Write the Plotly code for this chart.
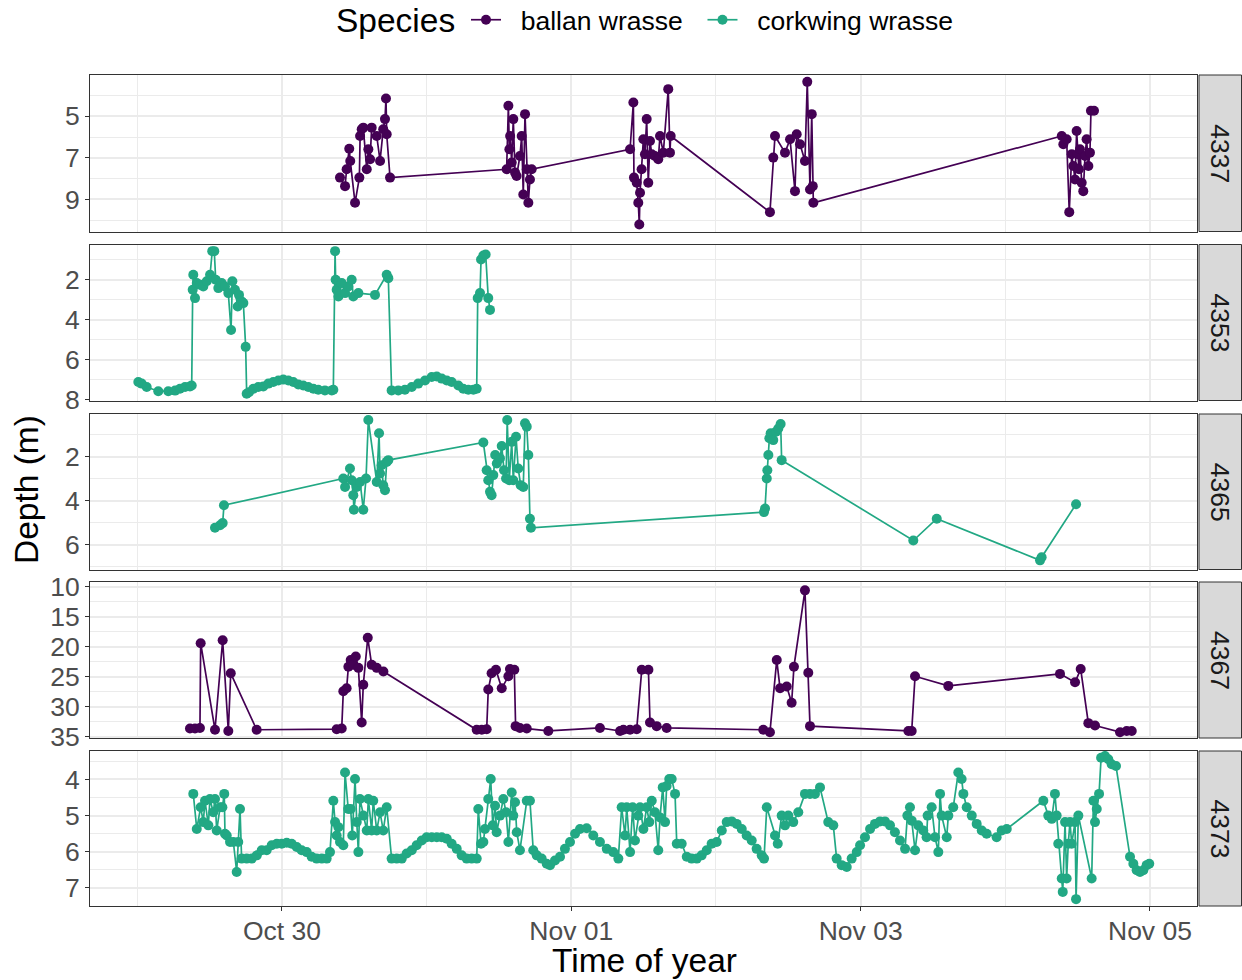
import pandas as pd
import plotly.graph_objects as go

# Time axis: days after 29 Oct 2019 00:00
T0 = pd.Timestamp("2019-10-29")

# ---- Fish 4337 (ballan wrasse) ----
t_4337 = [1.401, 1.436, 1.447, 1.465, 1.472, 1.505, 1.535, 1.540, 1.551, 1.562, 1.586, 1.597, 1.609, 1.620, 1.655,
          1.678, 1.700, 1.712, 1.719, 1.724, 1.747,
          2.553, 2.565, 2.572, 2.577, 2.588, 2.599, 2.611, 2.622, 2.645, 2.657, 2.668, 2.680, 2.692, 2.703, 2.714, 2.726,
          3.406, 3.429, 3.433, 3.452, 3.463, 3.470, 3.475, 3.486, 3.498, 3.509, 3.521, 3.532, 3.544, 3.556, 3.578,
          3.601, 3.613, 3.636, 3.670, 3.682, 3.687,
          4.373, 4.396, 4.408, 4.477, 4.512, 4.546, 4.558, 4.581, 4.615, 4.631, 4.650, 4.662, 4.669, 4.673,
          6.390, 6.401, 6.424, 6.442, 6.459, 6.470, 6.482, 6.493, 6.500, 6.509, 6.516, 6.528, 6.539, 6.551, 6.562,
          6.574, 6.585, 6.592, 6.613]
d_4337 = [7.95, 8.36, 7.55, 6.56, 7.15, 9.16, 7.95, 5.95, 5.63, 5.55, 7.55, 6.59, 7.07, 5.55, 5.95,
          7.15, 5.63, 5.14, 4.15, 5.87, 7.95,
          7.55, 4.50, 6.59, 5.95, 7.23, 5.14, 7.71, 7.87, 6.91, 5.95, 8.76, 4.90, 7.55, 9.16, 8.04, 7.55,
          6.59, 4.34, 7.95, 8.20, 9.16, 10.2, 8.68, 7.55, 6.11, 6.83, 5.14, 8.20, 6.19, 6.83, 6.91,
          7.07, 5.95, 6.75, 3.70, 6.75, 5.95,
          9.61, 6.99, 5.95, 6.75, 6.11, 8.60, 5.87, 6.35, 7.15, 3.35, 8.52, 4.90, 8.36, 9.16,
          5.95, 6.35, 6.11, 9.61, 6.83, 7.39, 8.04, 5.71, 6.83, 7.55, 6.59, 8.20, 8.60, 6.91, 6.11,
          7.39, 6.75, 4.74, 4.74]

# ---- Fish 4353 (corkwing wrasse) ----
t_4353 = [0.007, 0.030, 0.065, 0.145, 0.214, 0.261, 0.295, 0.330, 0.364, 0.376,
          0.383, 0.387, 0.399, 0.411, 0.433, 0.456, 0.480, 0.503, 0.518, 0.532,
          0.542, 0.560, 0.583, 0.606, 0.629, 0.648, 0.657, 0.675, 0.694, 0.703,
          0.722, 0.733, 0.749, 0.756, 0.772, 0.802, 0.836, 0.871, 0.906, 0.940,
          0.975, 1.009, 1.044, 1.078, 1.113, 1.147, 1.182, 1.217, 1.251, 1.297,
          1.344, 1.355, 1.367, 1.371, 1.378, 1.390, 1.413, 1.436, 1.459, 1.482,
          1.493, 1.528, 1.643, 1.724, 1.735, 1.758, 1.804, 1.850, 1.897, 1.942,
          1.989, 2.035, 2.070, 2.104, 2.139, 2.173, 2.219, 2.253, 2.288, 2.323,
          2.346, 2.353, 2.369, 2.376, 2.392, 2.408, 2.426, 2.438]
d_4353 = [7.12, 7.20, 7.37, 7.58, 7.58, 7.55, 7.46, 7.37, 7.34, 7.29,
          2.50, 1.75, 2.92, 2.17, 2.25, 2.34, 2.08, 1.75, 0.57, 0.57,
          2.00, 2.42, 2.17, 2.34, 2.67, 4.52, 2.08, 2.50, 3.34, 2.76,
          3.09, 3.17, 5.36, 7.71, 7.63, 7.46, 7.37, 7.34, 7.20, 7.12,
          7.04, 7.00, 7.04, 7.12, 7.24, 7.29, 7.37, 7.46, 7.51, 7.54,
          7.54, 7.51, 0.57, 2.00, 2.50, 2.84, 2.17, 2.67, 2.34, 2.00,
          2.84, 2.67, 2.76, 1.75, 1.92, 7.54, 7.54, 7.51, 7.37, 7.20,
          7.04, 6.87, 6.84, 6.95, 7.04, 7.12, 7.29, 7.46, 7.51, 7.51,
          7.46, 2.92, 2.67, 0.99, 0.79, 0.74, 2.92, 3.51]

# ---- Fish 4365 (corkwing wrasse) ----
t_4365 = [0.537, 0.572, 0.590, 0.599,
          1.424, 1.436, 1.470, 1.482, 1.493, 1.497, 1.517, 1.540, 1.562, 1.581, 1.597, 1.655, 1.671, 1.678,
          1.689, 1.700, 1.712, 1.724, 1.735,
          2.392, 2.415, 2.426, 2.438, 2.449, 2.461, 2.474, 2.485, 2.507, 2.519, 2.535, 2.549, 2.557, 2.571,
          2.588, 2.599, 2.618, 2.633, 2.650, 2.668, 2.680, 2.692, 2.703, 2.714, 2.721,
          4.332, 4.339, 4.351, 4.355, 4.362, 4.369, 4.378, 4.396, 4.415, 4.431, 4.447, 4.454,
          5.364, 5.526, 6.240, 6.251, 6.489]
d_4365 = [5.22, 5.11, 5.01, 4.20,
          2.98, 3.37, 2.53, 3.06, 3.74, 4.40, 3.37, 3.14, 4.40, 2.98, 0.33, 3.14, 0.93, 2.76,
          2.38, 3.29, 3.52, 2.23, 2.15,
          1.35, 2.61, 3.06, 3.59, 3.74, 2.83, 1.92, 2.30, 2.07, 1.51, 2.61, 2.98, 0.33, 3.06,
          1.32, 3.06, 1.09, 2.53, 3.29, 3.37, 0.48, 0.63, 1.92, 4.81, 5.22,
          4.51, 4.35, 2.98, 2.61, 1.92, 1.16, 0.93, 1.24, 0.86, 0.71, 0.51, 2.15,
          5.80, 4.81, 6.70, 6.56, 4.15]

# ---- Fish 4367 (ballan wrasse) ----
t_4367 = [0.364, 0.399, 0.433, 0.438, 0.537, 0.590, 0.629, 0.646, 0.825,
          1.378, 1.413, 1.424, 1.447, 1.459, 1.475, 1.493, 1.510, 1.528, 1.551, 1.562, 1.593, 1.620, 1.655, 1.701,
          2.346, 2.381, 2.415, 2.426, 2.449, 2.479, 2.519, 2.565, 2.576, 2.606, 2.615, 2.645, 2.692, 2.841,
          3.198, 3.337, 3.360, 3.406, 3.452, 3.487, 3.533, 3.544, 3.590, 3.659,
          4.327, 4.373, 4.420, 4.443, 4.489, 4.523, 4.539, 4.615, 4.638, 4.650,
          5.330, 5.353, 5.376, 5.606, 6.378, 6.482, 6.521, 6.574, 6.620, 6.793, 6.839, 6.874]
d_4367 = [33.6, 33.6, 33.5, 19.4, 33.8, 18.9, 34.0, 24.4, 33.8,
          33.7, 33.6, 27.4, 26.9, 23.3, 22.2, 23.0, 21.6, 23.5, 32.6, 26.3, 18.5, 23.0, 23.5, 24.1,
          33.8, 33.8, 33.7, 27.1, 24.4, 23.8, 26.9, 24.9, 23.7, 23.8, 33.2, 33.5, 33.6, 34.0,
          33.5, 34.0, 33.8, 33.8, 33.7, 23.8, 23.8, 32.6, 33.2, 33.5,
          33.8, 34.2, 22.2, 26.9, 26.6, 29.3, 23.3, 10.6, 24.3, 33.2,
          34.0, 34.0, 24.9, 26.5, 24.5, 25.9, 23.7, 32.7, 33.1, 34.2, 34.0, 34.0]

# ---- Fish 4373 (corkwing wrasse) ----
t_4373 = [0.387, 0.411, 0.438, 0.456, 0.468, 0.491, 0.502, 0.525, 0.537, 0.549,
          0.572, 0.588, 0.601, 0.606, 0.618, 0.641, 0.664, 0.687, 0.698, 0.710,
          0.721, 0.756, 0.791, 0.826, 0.860, 0.894, 0.929, 0.964, 0.998, 1.033,
          1.067, 1.102, 1.136, 1.171, 1.205, 1.240, 1.275, 1.309, 1.332, 1.355,
          1.367, 1.378, 1.390, 1.401, 1.424, 1.436, 1.458, 1.475, 1.486, 1.505,
          1.517, 1.528, 1.539, 1.562, 1.586, 1.597, 1.620, 1.631, 1.655, 1.678,
          1.700, 1.724, 1.758, 1.793, 1.828, 1.862, 1.897, 1.931, 1.966, 2.000,
          2.035, 2.070, 2.104, 2.139, 2.173, 2.208, 2.242, 2.277, 2.311, 2.346,
          2.357, 2.376, 2.392, 2.403, 2.426, 2.443, 2.457, 2.473, 2.484, 2.507,
          2.530, 2.549, 2.565, 2.588, 2.599, 2.611, 2.623, 2.645, 2.692, 2.714,
          2.737, 2.761, 2.795, 2.830, 2.853, 2.887, 2.922, 2.956, 2.991, 3.026,
          3.060, 3.106, 3.152, 3.198, 3.245, 3.290, 3.325, 3.348, 3.371, 3.383,
          3.406, 3.424, 3.440, 3.463, 3.475, 3.498, 3.521, 3.539, 3.556, 3.578,
          3.601, 3.613, 3.632, 3.648, 3.659, 3.677, 3.694, 3.717, 3.729, 3.763,
          3.798, 3.832, 3.867, 3.901, 3.936, 3.970, 4.005, 4.040, 4.074, 4.109,
          4.143, 4.178, 4.212, 4.247, 4.281, 4.316, 4.332, 4.351, 4.408, 4.427,
          4.454, 4.477, 4.500, 4.534, 4.569, 4.615, 4.650, 4.684, 4.719, 4.776,
          4.811, 4.834, 4.869, 4.904, 4.938, 4.973, 4.996, 5.030, 5.065, 5.099,
          5.134, 5.168, 5.203, 5.237, 5.272, 5.307, 5.323, 5.341, 5.353, 5.376,
          5.398, 5.433, 5.456, 5.463, 5.491, 5.514, 5.537, 5.549, 5.560, 5.595,
          5.606, 5.640, 5.675, 5.698, 5.710, 5.733, 5.768, 5.802, 5.837, 5.871,
          5.940, 5.975, 6.010, 6.263, 6.297, 6.321, 6.343, 6.355, 6.366, 6.390,
          6.397, 6.413, 6.424, 6.435, 6.447, 6.459, 6.482, 6.489, 6.505, 6.597,
          6.609, 6.620, 6.632, 6.648, 6.662, 6.689, 6.712, 6.735, 6.765, 6.862,
          6.885, 6.908, 6.931, 6.954, 6.977, 6.995]
d_4373 = [4.40, 5.37, 4.77, 5.18, 4.59, 5.27, 4.54, 4.91, 4.54, 5.41,
          4.77, 4.77, 4.40, 5.50, 5.55, 5.73, 5.73, 6.56, 5.73, 4.82,
          6.19, 6.19, 6.19, 6.10, 5.96, 5.96, 5.82, 5.78, 5.78, 5.75,
          5.78, 5.87, 5.96, 6.01, 6.14, 6.19, 6.19, 6.19, 6.01, 4.59,
          5.18, 5.55, 5.32, 5.73, 5.82, 3.81, 4.82, 4.82, 5.55, 3.99,
          5.18, 6.01, 4.54, 5.00, 5.41, 4.54, 5.41, 4.59, 5.41, 4.91,
          5.41, 4.77, 6.19, 6.19, 6.19, 6.05, 5.96, 5.82, 5.69, 5.60,
          5.60, 5.60, 5.60, 5.64, 5.78, 5.92, 6.10, 6.19, 6.19, 6.19,
          4.82, 5.78, 5.73, 5.37, 4.54, 3.99, 5.27, 4.73, 5.46, 5.00,
          4.54, 4.91, 5.73, 4.36, 5.00, 4.63, 5.46, 5.96, 4.59, 4.59,
          5.96, 6.10, 6.19, 6.33, 6.37, 6.24, 6.14, 5.92, 5.73, 5.50,
          5.37, 5.35, 5.55, 5.73, 5.92, 6.01, 6.19, 4.77, 5.55, 4.77,
          6.01, 4.77, 5.69, 5.00, 4.77, 5.37, 4.77, 5.18, 4.59, 4.91,
          5.96, 5.05, 4.22, 5.18, 4.18, 3.99, 3.99, 4.40, 5.78, 5.78,
          6.14, 6.19, 6.19, 6.10, 5.96, 5.78, 5.73, 5.41, 5.18, 5.16,
          5.23, 5.37, 5.55, 5.69, 5.92, 6.10, 6.19, 4.77, 5.55, 5.78,
          5.00, 5.27, 5.00, 5.18, 4.91, 4.40, 4.40, 4.40, 4.22, 5.18,
          5.27, 6.19, 6.37, 6.42, 6.19, 6.01, 5.82, 5.60, 5.37, 5.23,
          5.16, 5.16, 5.27, 5.46, 5.69, 5.92, 5.00, 4.77, 5.14, 5.96,
          5.27, 5.41, 5.60, 5.00, 4.77, 5.60, 6.01, 4.40, 5.00, 5.60,
          5.00, 4.77, 3.81, 3.99, 4.40, 4.77, 5.00, 5.23, 5.41, 5.50,
          5.60, 5.41, 5.37, 4.59, 5.00, 5.09, 4.40, 5.00, 5.78, 6.74,
          7.11, 5.18, 6.74, 5.78, 5.18, 5.78, 5.18, 7.31, 5.00, 6.74,
          4.59, 5.18, 4.82, 4.40, 3.40, 3.35, 3.44, 3.58, 3.63, 6.14,
          6.33, 6.51, 6.56, 6.51, 6.37, 6.33]

BALLAN = "#440154"
CORKWING = "#22A884"

# one entry per facet row, top to bottom
panels = [
    dict(tag="4337", species="ballan wrasse", t=t_4337, d=d_4337,
         yrange=[10.54, 3.02], ticks=[5, 7, 9], minor=[4, 6, 8, 10], px=(75, 231.5)),
    dict(tag="4353", species="corkwing wrasse", t=t_4353, d=d_4353,
         yrange=[8.045, 0.237], ticks=[2, 4, 6, 8], minor=[1, 3, 5, 7], px=(244.5, 400.5)),
    dict(tag="4365", species="corkwing wrasse", t=t_4365, d=d_4365,
         yrange=[7.116, 0.055], ticks=[2, 4, 6], minor=[1, 3, 5, 7], px=(414, 569.5)),
    dict(tag="4367", species="ballan wrasse", t=t_4367, d=d_4367,
         yrange=[35.17, 9.21], ticks=[10, 15, 20, 25, 30, 35],
         minor=[12.5, 17.5, 22.5, 27.5, 32.5], px=(582, 738)),
    dict(tag="4373", species="corkwing wrasse", t=t_4373, d=d_4373,
         yrange=[7.5, 3.214], ticks=[4, 5, 6, 7], minor=[3.5, 4.5, 5.5, 6.5, 7.5], px=(751, 906)),
]
colors = {"ballan wrasse": BALLAN, "corkwing wrasse": CORKWING}

# x ticks (days after T0)
major_days = [1, 3, 5, 7]
major_text = ["Oct 30", "Nov 01", "Nov 03", "Nov 05"]
minor_days = [0, 2, 4, 6]
x_range_days = [-0.327, 7.325]


def to_time(days):
    return T0 + pd.to_timedelta(pd.Series(days, dtype=float), unit="D")


W, H = 1242, 980
ML, MR, MT, MB = 90, 0, 75, 74
PW, PH = W - ML - MR, H - MT - MB
PANEL_RIGHT = 1197


def ydom(top, bot):
    return [(H - MB - bot) / PH, (H - MB - top) / PH]


def ypaper(py):
    return (H - MB - py) / PH


def xpaper(px):
    return (px - ML) / PW


FONT = "Liberation Sans, Arial, Helvetica, sans-serif"
GRID = "#EBEBEB"
BORDER = "#333333"
TICK_FONT = dict(size=26.5, color="#4D4D4D", family=FONT)
TITLE_SIZE = 33.5
PAD = "\u00a0\u00a0"  # spacing around legend labels

fig = go.Figure()
shown = set()
layout = {}
shapes = []
annotations = []

for i, p in enumerate(panels, start=1):
    assert len(p["t"]) == len(p["d"])
    sfx = "" if i == 1 else str(i)
    sp = p["species"]
    fig.add_trace(go.Scatter(
        x=to_time(p["t"]), y=p["d"], mode="lines+markers",
        name=PAD + sp + PAD, legendgroup=sp, showlegend=sp not in shown,
        line=dict(color=colors[sp], width=1.7),
        marker=dict(color=colors[sp], size=10),
        xaxis="x" + sfx, yaxis="y" + sfx,
    ))
    shown.add(sp)

    bottom = i == len(panels)
    layout["xaxis" + sfx] = dict(
        domain=[0, xpaper(PANEL_RIGHT)], anchor="y" + sfx, type="date",
        range=list(to_time(x_range_days)),
        tickmode="array", tickvals=list(to_time(major_days)),
        ticktext=major_text, showticklabels=bottom,
        ticks="outside" if bottom else "", ticklen=4, tickwidth=1, tickcolor=BORDER,
        ticklabelstandoff=-3,
        showgrid=True, gridcolor=GRID, gridwidth=1.6,
        minor=dict(tickmode="array", tickvals=list(to_time(minor_days)),
                   showgrid=True, gridcolor=GRID, gridwidth=0.8, ticks=""),
        showline=True, linecolor=BORDER, linewidth=1, mirror=True,
        zeroline=False, tickfont=TICK_FONT,
        **({} if i == 1 else {"matches": "x"}),
    )
    layout["yaxis" + sfx] = dict(
        domain=ydom(*p["px"]), anchor="x" + sfx, range=p["yrange"],
        tickmode="array", tickvals=p["ticks"],
        ticks="outside", ticklen=4, tickwidth=1, tickcolor=BORDER,
        showgrid=True, gridcolor=GRID, gridwidth=1.6,
        minor=dict(tickmode="array", tickvals=p["minor"], showgrid=True,
                   gridcolor=GRID, gridwidth=0.8, ticks=""),
        showline=True, linecolor=BORDER, linewidth=1, mirror=True,
        zeroline=False, tickfont=TICK_FONT,
    )

    # facet strip on the right
    y0, y1 = ydom(*p["px"])
    shapes.append(dict(type="rect", xref="paper", yref="paper",
                       x0=xpaper(1199), x1=xpaper(1241.5), y0=y0, y1=y1,
                       fillcolor="#D9D9D9", line=dict(color=BORDER, width=1), layer="above"))
    annotations.append(dict(text=p["tag"], xref="paper", yref="paper",
                            x=xpaper(1220), y=(y0 + y1) / 2, xanchor="center", yanchor="middle",
                            showarrow=False, textangle=90,
                            font=dict(size=26.5, color="#1A1A1A", family=FONT)))

annotations.append(dict(text="Depth (m)", xref="paper", yref="paper",
                        x=xpaper(27), y=ypaper(490), xanchor="center", yanchor="middle",
                        showarrow=False, textangle=-90,
                        font=dict(size=TITLE_SIZE, color="black", family=FONT)))
annotations.append(dict(text="Time of year", xref="paper", yref="paper",
                        x=xpaper(644), y=ypaper(961), xanchor="center", yanchor="middle",
                        showarrow=False, font=dict(size=TITLE_SIZE, color="black", family=FONT)))
annotations.append(dict(text="Species", xref="paper", yref="paper",
                        x=xpaper(334), y=ypaper(21), xanchor="left", yanchor="middle",
                        showarrow=False, font=dict(size=TITLE_SIZE, color="black", family=FONT)))

fig.update_layout(
    width=W, height=H,
    margin=dict(l=ML, r=MR, t=MT, b=MB, autoexpand=False),
    paper_bgcolor="white", plot_bgcolor="white",
    font=dict(family=FONT, color="black"),
    shapes=shapes, annotations=annotations,
    legend=dict(
        orientation="h", x=xpaper(466), xanchor="left", y=ypaper(20), yanchor="middle",
        font=dict(size=26.5, family=FONT), itemwidth=30,
    ),
    **layout,
)

fig.write_html("out.html")
